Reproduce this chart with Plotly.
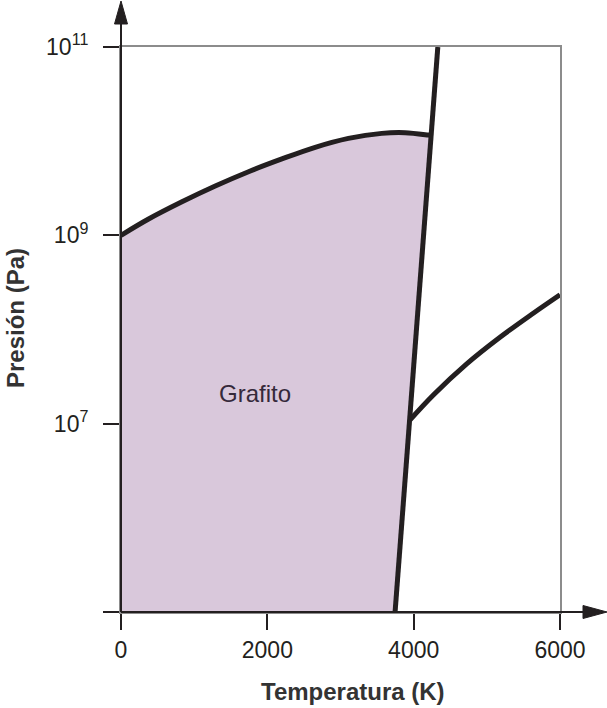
import plotly.graph_objects as go

# ---- data (T in K, P in Pa) ----
# graphite / diamond boundary (upper curve of the shaded region)
upper_T = [0, 377, 833, 1288, 1743, 2199, 2654, 3108, 3564, 3883, 4201, 4238]
upper_P = [1.0e9, 1.49e9, 2.27e9, 3.34e9, 4.74e9, 6.47e9, 8.61e9, 1.07e10,
           1.21e10, 1.23e10, 1.16e10, 1.15e10]
# steep melting line
melt_T = [3746, 4330]
melt_P = [1.0e5, 1.0e11]
# lower right curve
low_T = [3951, 4269, 4725, 5180, 5635, 6000]
low_P = [1.10e7, 2.02e7, 4.32e7, 8.28e7, 1.49e8, 2.34e8]

x_ticks = [0, 2000, 4000, 6000]
y_ticks = [1e5, 1e7, 1e9, 1e11]
y_ticktext = ["", "10<sup>7</sup>", "10<sup>9</sup>", "10<sup>11</sup>"]
region_label = "Grafito"
x_title = "Temperatura (K)"
y_title = "Presión (Pa)"

# ---- styling / layout constants ----
W, H = 607, 708
L, R, T, B = 121, 47, 47, 96
pw, ph = W - L - R, H - T - B
LINE = "#231f20"
FILL = "#d9c8db"
GRAY = "#8c8c8c"
FONT = "Liberation Sans, Arial, sans-serif"


def px(x):
    return (x - L) / pw


def py(y):
    return (H - B - y) / ph


fig = go.Figure()

# shaded graphite region
fig.add_trace(go.Scatter(
    x=[0] + upper_T + [melt_T[0]],
    y=[melt_P[0]] + upper_P + [melt_P[0]],
    fill="toself", fillcolor=FILL, mode="none", hoverinfo="skip",
    showlegend=False))

for xs, ys, shape in [(upper_T, upper_P, "spline"), (melt_T, melt_P, "linear"),
                      (low_T, low_P, "spline")]:
    fig.add_trace(go.Scatter(
        x=xs, y=ys, mode="lines",
        line=dict(color=LINE, width=5, shape=shape),
        showlegend=False, hoverinfo="skip"))

axis_common = dict(
    showline=True, mirror=True, linecolor=GRAY, linewidth=2,
    ticks="outside", ticklen=16, tickwidth=2, tickcolor=LINE,
    showgrid=False, zeroline=False,
    tickfont=dict(family=FONT, size=23, color=LINE),
)

fig.update_xaxes(range=[0, 6000], tickvals=x_ticks,
                 ticktext=[str(v) for v in x_ticks], **axis_common)
fig.update_yaxes(type="log", range=[5, 11], tickvals=y_ticks,
                 ticktext=y_ticktext, ticklabelstandoff=10, **axis_common)

shapes = [
    # black axis shafts
    dict(type="line", xref="paper", yref="paper", x0=0, y0=0, x1=px(590), y1=0,
         line=dict(color=LINE, width=2)),
    dict(type="line", xref="paper", yref="paper", x0=0, y0=0, x1=0, y1=py(18),
         line=dict(color=LINE, width=2)),
    # arrow heads
    dict(type="path", xref="paper", yref="paper",
         path=f"M {px(607)},{py(612)} L {px(583)},{py(605.5)} L {px(583)},{py(618.5)} Z",
         fillcolor=LINE, line=dict(color=LINE, width=1)),
    dict(type="path", xref="paper", yref="paper",
         path=f"M {px(121)},{py(1)} L {px(114.5)},{py(24)} L {px(127.5)},{py(24)} Z",
         fillcolor=LINE, line=dict(color=LINE, width=1)),
]

annotations = [
    dict(x=1834, y=7.32, xref="x", yref="y", text=region_label, showarrow=False,
         xanchor="center", yanchor="middle",
         font=dict(family=FONT, size=24, color="#35293a")),
    dict(x=px(353), y=py(691), xref="paper", yref="paper", text=f"<b>{x_title}</b>",
         showarrow=False, xanchor="center", yanchor="middle",
         font=dict(family=FONT, size=24, color="#333333")),
    dict(x=px(15), y=py(318), xref="paper", yref="paper", text=f"<b>{y_title}</b>",
         textangle=-90, showarrow=False, xanchor="center", yanchor="middle",
         font=dict(family=FONT, size=24, color="#333333")),
]

fig.update_layout(
    width=W, height=H,
    margin=dict(l=L, r=R, t=T, b=B),
    paper_bgcolor="white", plot_bgcolor="white",
    shapes=shapes, annotations=annotations,
    font=dict(family=FONT),
)

fig.write_html("out.html",
               config={"displayModeBar": False},
               post_script="document.body.style.margin='0';"
                           "document.body.style.overflow='hidden';")
